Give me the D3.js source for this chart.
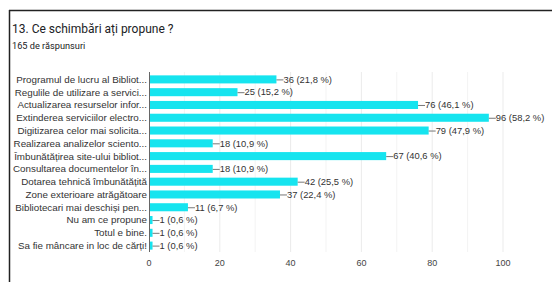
<!DOCTYPE html>
<html>
<head>
<meta charset="utf-8">
<script src="https://cdn.jsdelivr.net/npm/d3@7"></script>
<style>
  body { margin: 0; background: #fff; }
  svg { display: block; font-family: "Liberation Sans", Arial, sans-serif; }
</style>
</head>
<body>
<div id="chart"></div>
<script>
// answers (truncated the way the form shows them)
var categories = [
  "Programul de lucru al Bibliot...",
  "Regulile de utilizare a servici...",
  "Actualizarea resurselor infor...",
  "Extinderea serviciilor electro...",
  "Digitizarea celor mai solicita...",
  "Realizarea analizelor sciento...",
  "Îmbunătățirea site-ului bibliot...",
  "Consultarea documentelor în...",
  "Dotarea tehnică îmbunătățită",
  "Zone exterioare atrăgătoare",
  "Bibliotecari mai deschiși pen...",
  "Nu am ce propune",
  "Totul e bine.",
  "Sa fie mâncare in loc de cărți!"
];
var counts = [36, 25, 76, 96, 79, 18, 67, 18, 42, 37, 11, 1, 1, 1];
var percents = ["21,8", "15,2", "46,1", "58,2", "47,9", "10,9", "40,6", "10,9", "25,5", "22,4", "6,7", "0,6", "0,6", "0,6"];
var xTicks = [0, 20, 40, 60, 80, 100];

var svgWidth = 552, svgHeight = 282;

var svg = d3.select("#chart")
  .append("svg")
  .attr("width", svgWidth)
  .attr("height", svgHeight);

// card border (top + left edge visible in the screenshot)
svg.append("line")
  .attr("x1", 9).attr("x2", svgWidth).attr("y1", 10.5).attr("y2", 10.5)
  .attr("stroke", "#222").attr("stroke-width", 1.5);
svg.append("line")
  .attr("x1", 9.5).attr("x2", 9.5).attr("y1", 10).attr("y2", svgHeight)
  .attr("stroke", "#222").attr("stroke-width", 1.5);

svg.append("text")
  .attr("x", 12).attr("y", 33)
  .attr("font-family", "Roboto, sans-serif")
  .attr("font-size", "12px")
  .attr("fill", "#202124")
  .text("13. Ce schimbări ați propune ?");

svg.append("text")
  .attr("x", 12).attr("y", 49)
  .attr("font-family", "Roboto, sans-serif")
  .attr("font-size", "9.2px")
  .attr("fill", "#202124")
  .text("165 de răspunsuri");

var x = d3.scaleLinear().domain([0, 100]).range([149, 503]);
var y = d3.scaleBand()
  .domain(categories)
  .range([73, 252])
  .paddingInner(0.37)
  .paddingOuter(0.185);

// gridlines every 10
svg.append("g")
  .selectAll("line")
  .data(d3.range(10, 101, 10))
  .enter()
  .append("line")
  .attr("x1", d => x(d)).attr("x2", d => x(d))
  .attr("y1", 72).attr("y2", 252)
  .attr("stroke", d => d % 20 === 0 ? "#ebebeb" : "#f3f3f3");

// bottom tick labels
svg.append("g")
  .selectAll("text")
  .data(xTicks)
  .enter()
  .append("text")
  .attr("x", d => x(d))
  .attr("y", 266)
  .attr("text-anchor", "middle")
  .attr("font-size", "9px")
  .attr("fill", "#444")
  .text(d => d);

var rows = categories.map((c, i) => ({ name: c, value: counts[i], pct: percents[i] }));

svg.append("g")
  .selectAll("rect")
  .data(rows)
  .enter()
  .append("rect")
  .attr("x", x(0))
  .attr("y", d => y(d.name))
  .attr("width", d => x(d.value) - x(0))
  .attr("height", y.bandwidth())
  .attr("fill", "#16e4ef");

// zero axis line
svg.append("line")
  .attr("x1", x(0) + 0.5).attr("x2", x(0) + 0.5)
  .attr("y1", 72).attr("y2", 252)
  .attr("stroke", "#666");

// category labels
svg.append("g")
  .selectAll("text")
  .data(rows)
  .enter()
  .append("text")
  .attr("x", x(0) - 2)
  .attr("y", d => y(d.name) + y.bandwidth() / 2)
  .attr("dy", "0.35em")
  .attr("text-anchor", "end")
  .attr("font-size", "9.8px")
  .attr("fill", "#333")
  .text(d => d.name);

// value labels with short leader line
var vals = svg.append("g")
  .selectAll("g")
  .data(rows)
  .enter()
  .append("g")
  .attr("transform", d => `translate(${x(d.value)}, ${y(d.name) + y.bandwidth() / 2})`);

vals.append("line")
  .attr("x1", 0).attr("x2", 7)
  .attr("y1", 0.5).attr("y2", 0.5)
  .attr("stroke", "#777");

vals.append("text")
  .attr("x", 7)
  .attr("dy", "0.35em")
  .attr("font-size", "9.4px")
  .attr("fill", "#333")
  .text(d => `${d.value} (${d.pct} %)`);
</script>
</body>
</html>
